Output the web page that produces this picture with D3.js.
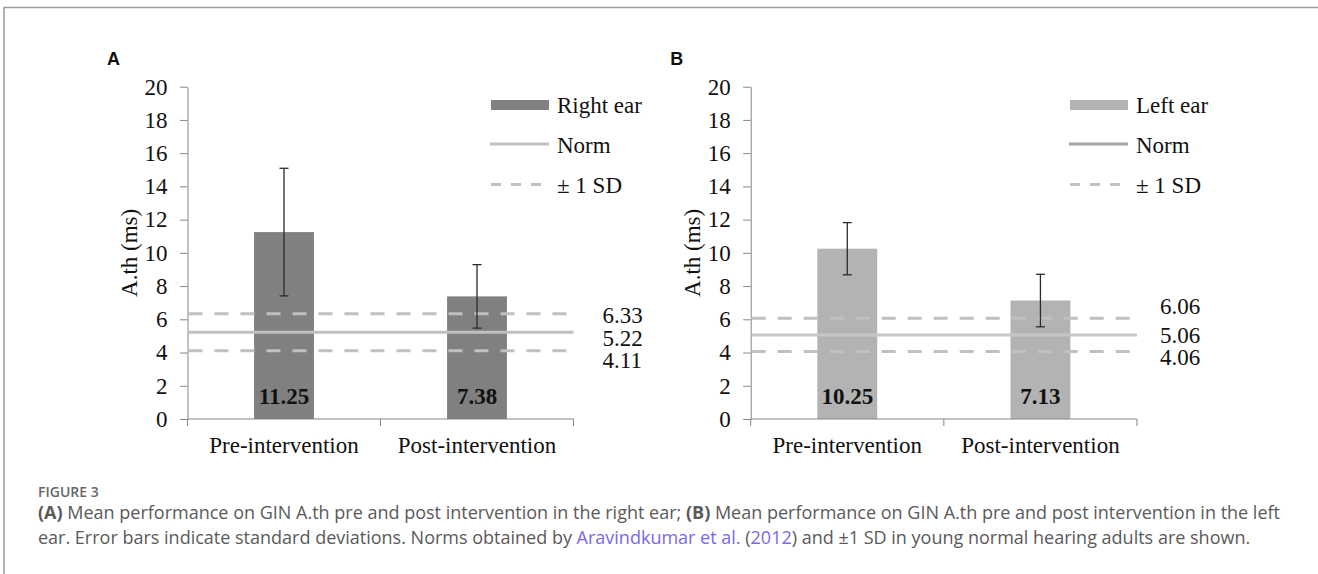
<!DOCTYPE html>
<html>
<head>
<meta charset="utf-8">
<script src="https://cdn.jsdelivr.net/npm/d3@7"></script>
<style>
  body { margin: 0; background: #fff; }
  svg { display: block; }
</style>
</head>
<body>
<div id="chart"></div>
<script>
// data
var categories = ['Pre-intervention', 'Post-intervention'];
var rightEarMeans = [11.25, 7.38];
var rightEarSD = [3.84, 1.91];
var leftEarMeans = [10.25, 7.13];
var leftEarSD = [1.57, 1.58];
var rightNorm = [6.33, 5.22, 4.11];   // +1 SD, norm, -1 SD
var leftNorm = [6.06, 5.06, 4.06];
var yTicks = [0, 2, 4, 6, 8, 10, 12, 14, 16, 18, 20];

// page constants
var width = 1318;
var height = 574;
var serif = '"Liberation Serif", "Times New Roman", serif';
var axisColor = '#868686';

var svg = d3.select('div#chart')
    .append('svg')
    .attr('width', width)
    .attr('height', height);

// frame round the figure
svg.append('path')
    .attr('d', 'M4,' + height + 'V7.5H' + width)
    .attr('fill', 'none')
    .attr('stroke', '#9a9a9a')
    .attr('stroke-width', 1.5);

function drawPanel(p) {
    var g = svg.append('g');

    var y = d3.scaleLinear().domain([0, 20]).range([419, 86.7]);
    var xCat = d3.scaleBand().domain(categories).range([p.left, p.right]);
    var xBar = d3.scaleBand().domain(categories).range([p.left, p.right])
        .paddingInner(0.69).paddingOuter(0.345);

    // panel letter
    g.append('text')
        .attr('x', p.left - 80.5)
        .attr('y', 65)
        .attr('font-family', '"Liberation Sans", Arial, sans-serif')
        .attr('font-weight', 'bold')
        .attr('font-size', 18)
        .attr('fill', '#111')
        .text(p.letter);

    // y axis
    var yAxis = g.append('g')
        .attr('transform', 'translate(' + p.left + ',0)')
        .call(d3.axisLeft(y).tickValues(yTicks).tickSize(7.5).tickPadding(12.5).tickSizeOuter(0));
    yAxis.select('.domain').attr('stroke', axisColor);
    yAxis.selectAll('.tick line').attr('stroke', axisColor);
    yAxis.selectAll('.tick text')
        .attr('font-family', serif)
        .attr('font-size', 23)
        .attr('fill', '#111');

    // y title
    g.append('text')
        .attr('transform', 'translate(' + (p.left - 59) + ',' + y(10) + ') rotate(-90)')
        .attr('text-anchor', 'middle')
        .attr('dy', '0.35em')
        .attr('font-family', serif)
        .attr('font-size', 23)
        .attr('fill', '#111')
        .text('A.th (ms)');

    // bars
    g.selectAll('rect.bar')
        .data(p.means)
        .enter()
        .append('rect')
        .attr('class', 'bar')
        .attr('x', (d, i) => xBar(categories[i]))
        .attr('y', d => y(d))
        .attr('width', xBar.bandwidth())
        .attr('height', d => y(0) - y(d))
        .attr('fill', p.barColor);

    // x axis line and category boundary ticks
    g.append('line')
        .attr('x1', p.left).attr('x2', p.right)
        .attr('y1', y(0)).attr('y2', y(0))
        .attr('stroke', axisColor);
    var bounds = categories.map(c => xCat(c)).concat([p.right]);
    g.selectAll('line.xtick')
        .data(bounds)
        .enter()
        .append('line')
        .attr('class', 'xtick')
        .attr('x1', d => d).attr('x2', d => d)
        .attr('y1', y(0)).attr('y2', y(0) + 7)
        .attr('stroke', axisColor);
    g.selectAll('text.xlab')
        .data(categories)
        .enter()
        .append('text')
        .attr('class', 'xlab')
        .attr('x', d => xCat(d) + xCat.bandwidth() / 2)
        .attr('y', 453)
        .attr('text-anchor', 'middle')
        .attr('font-family', serif)
        .attr('font-size', 23)
        .attr('fill', '#111')
        .text(d => d);

    // norm and +-1 SD lines
    g.selectAll('line.norm')
        .data(p.norm)
        .enter()
        .append('line')
        .attr('class', 'norm')
        .attr('x1', p.left + 1)
        .attr('x2', (d, i) => i == 1 ? p.right : p.right - 5)
        .attr('y1', d => y(d)).attr('y2', d => y(d))
        .attr('stroke', (d, i) => i == 1 ? p.normColor : '#c0c0c0')
        .attr('stroke-width', 3)
        .attr('stroke-dasharray', (d, i) => i == 1 ? null : '14,12');

    // norm value labels, nudged apart like the original text boxes
    g.selectAll('text.normlab')
        .data(p.norm)
        .enter()
        .append('text')
        .attr('class', 'normlab')
        .attr('x', p.right + p.labelGap)
        .attr('y', (d, i) => y(d) + p.labelDy[i])
        .attr('dy', '0.35em')
        .attr('font-family', serif)
        .attr('font-size', 23)
        .attr('fill', '#111')
        .text(d => d.toFixed(2));

    // error bars
    var err = g.selectAll('g.err')
        .data(p.means)
        .enter()
        .append('g')
        .attr('class', 'err')
        .attr('stroke', '#2a2a2a')
        .attr('stroke-width', 1.3);
    err.append('line')
        .attr('x1', (d, i) => xCat(categories[i]) + xCat.bandwidth() / 2)
        .attr('x2', (d, i) => xCat(categories[i]) + xCat.bandwidth() / 2)
        .attr('y1', (d, i) => y(d + p.sd[i]))
        .attr('y2', (d, i) => y(d - p.sd[i]));
    [1, -1].forEach(function(s) {
        err.append('line')
            .attr('x1', (d, i) => xCat(categories[i]) + xCat.bandwidth() / 2 - 4.5)
            .attr('x2', (d, i) => xCat(categories[i]) + xCat.bandwidth() / 2 + 4.5)
            .attr('y1', (d, i) => y(d + s * p.sd[i]))
            .attr('y2', (d, i) => y(d + s * p.sd[i]));
    });

    // value labels inside the bars
    g.selectAll('text.val')
        .data(p.means)
        .enter()
        .append('text')
        .attr('class', 'val')
        .attr('x', (d, i) => xCat(categories[i]) + xCat.bandwidth() / 2)
        .attr('y', 404)
        .attr('text-anchor', 'middle')
        .attr('font-family', serif)
        .attr('font-weight', 'bold')
        .attr('font-size', 23)
        .attr('fill', '#111')
        .text(d => d.toFixed(2));

    // legend
    var lx = p.legendX;
    g.append('rect')
        .attr('x', lx).attr('y', 100)
        .attr('width', 58).attr('height', 10)
        .attr('fill', p.barColor);
    g.append('line')
        .attr('x1', lx - 1).attr('x2', lx + 58)
        .attr('y1', 144).attr('y2', 144)
        .attr('stroke', p.legendNormColor)
        .attr('stroke-width', 3);
    g.append('line')
        .attr('x1', lx).attr('x2', lx + 50)
        .attr('y1', 184.5).attr('y2', 184.5)
        .attr('stroke', '#c0c0c0')
        .attr('stroke-width', 3)
        .attr('stroke-dasharray', '10,10');
    g.selectAll('text.leg')
        .data([p.seriesName, 'Norm', '\u00b1 1 SD'])
        .enter()
        .append('text')
        .attr('class', 'leg')
        .attr('x', lx + 66)
        .attr('y', (d, i) => [105, 145, 185][i])
        .attr('dy', '0.35em')
        .attr('font-family', serif)
        .attr('font-size', 23)
        .attr('fill', '#111')
        .text(d => d);
}

drawPanel({
    letter: 'A', left: 187.5, right: 573.5,
    means: rightEarMeans, sd: rightEarSD, norm: rightNorm,
    barColor: '#808080', normColor: '#c0c0c0', legendNormColor: '#c0c0c0',
    seriesName: 'Right ear', legendX: 491,
    labelGap: 29, labelDy: [1, 6, 9]
});

drawPanel({
    letter: 'B', left: 750.7, right: 1137,
    means: leftEarMeans, sd: leftEarSD, norm: leftNorm,
    barColor: '#b3b3b3', normColor: '#c6c6c6', legendNormColor: '#a6a6a6',
    seriesName: 'Left ear', legendX: 1070,
    labelGap: 23, labelDy: [-12, 0, 5]
});

// caption
var capFont = '"Open Sans", "Noto Sans", sans-serif';
svg.append('text')
    .attr('x', 38).attr('y', 497)
    .attr('font-family', capFont)
    .attr('font-size', 14)
    .attr('font-weight', 600)
    .attr('fill', '#666')
    .text('FIGURE 3');

var captionLines = [
    [['b', '(A)'], ['t', ' Mean performance on GIN A.th pre and post intervention in the right ear; '],
     ['b', '(B)'], ['t', ' Mean performance on GIN A.th pre and post intervention in the left']],
    [['t', 'ear. Error bars indicate standard deviations. Norms obtained by '], ['a', 'Aravindkumar et al.'],
     ['t', ' ('], ['a', '2012'], ['t', ') and \u00b11 SD in young normal hearing adults are shown.']]
];

captionLines.forEach(function(parts, li) {
    var t = svg.append('text')
        .attr('x', 38)
        .attr('y', 519 + li * 25)
        .attr('font-family', capFont)
        .attr('font-size', 18)
        .attr('fill', '#5a5a5a');
    parts.forEach(function(pt) {
        t.append('tspan')
            .attr('font-weight', pt[0] == 'b' ? 700 : 400)
            .attr('fill', pt[0] == 'a' ? '#7a68ec' : null)
            .text(pt[1]);
    });
});
</script>
</body>
</html>
